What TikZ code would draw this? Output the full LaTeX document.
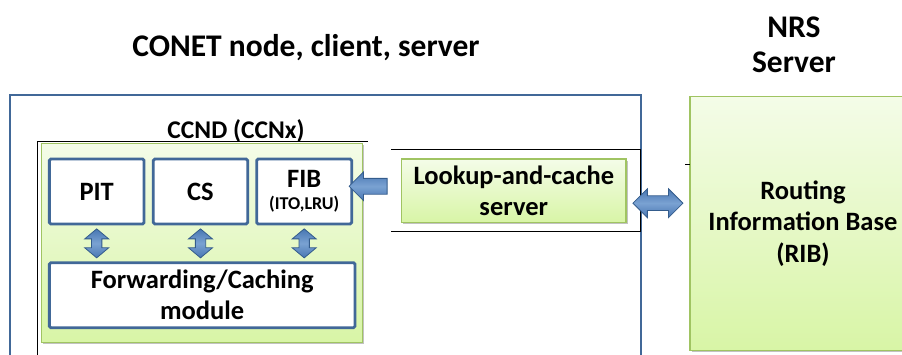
\documentclass[tikz,border=0pt]{standalone}
\usepackage{fontspec}
\setmainfont{Carlito}
\usetikzlibrary{shapes.arrows,shadows,calc}

\definecolor{boxblue}{RGB}{65,104,152}
\definecolor{arrowblue}{RGB}{72,118,178}
\definecolor{arrowlight}{RGB}{122,162,210}
\definecolor{arrowedge}{RGB}{52,92,140}
\definecolor{greenedge}{RGB}{160,196,98}
\definecolor{greentop}{RGB}{244,252,232}
\definecolor{greenbot}{RGB}{216,245,166}

\tikzset{
  unitbox/.style={draw=boxblue, line width=2.8pt, fill=white, rounded corners=1.5pt,
    inner sep=0pt, align=center, font=\bfseries\fontsize{26.5}{31}\selectfont},
  greenbox/.style={draw=greenedge, line width=1.3pt, top color=greentop, bottom color=greenbot,
    inner sep=0pt, align=center, font=\bfseries\fontsize{26.5}{31.5}\selectfont,
    drop shadow={shadow xshift=1.6pt, shadow yshift=-1.6pt, fill=black!40, opacity=.6}},
  fatarrow/.style={draw=arrowedge, top color=arrowblue, bottom color=arrowblue,
    middle color=arrowlight, line width=0.8pt, inner xsep=0pt,
    inner ysep=0pt, text depth=0pt, minimum width=0pt},
  vdarrow/.style={fatarrow, double arrow, rotate=90, text height=9.5pt, minimum height=29pt,
    double arrow head extend=6.8pt, double arrow tip angle=100},
  frameline/.style={black, line width=0.8pt},
  heading/.style={align=center, font=\bfseries\fontsize{31.5}{35}\selectfont}
}

\begin{document}
\begin{tikzpicture}[x=1pt,y=-1pt]
\useasboundingbox (0,0) rectangle (902,354);

\node[heading] (title) at (306,48) {CONET node, client, server};
\node[heading] (nrs) at (794,45) {NRS\\Server};

\draw[boxblue, line width=2.8pt] (10,380) -- (10,95) -- (641,95) -- (641,380);

\draw[frameline] (37,380) -- (37,141) -- (368,141);
\node[font=\bfseries\fontsize{25.5}{28}\selectfont] (ccndlabel) at (236,131) {CCND (CCNx)};
\node[greenbox, minimum width=321.4pt, minimum height=199.4pt] (ccnd) at (202,243) {};

\node[unitbox, minimum width=94.7pt, minimum height=65pt] (pit) at (96.7,191.5) {PIT};
\node[unitbox, minimum width=94.4pt, minimum height=65pt] (cs) at (200.5,191.5) {CS};
\node[unitbox, minimum width=95pt, minimum height=65pt] (fib) at (304.2,191.5)
  {\raisebox{-3pt}{FIB}\\[-6pt]{\fontsize{18}{20}\selectfont(ITO,LRU)}};
\node[unitbox, minimum width=305.7pt, minimum height=65pt] (fwd) at (202.2,295.2)
  {Forwarding/Caching\\module};

\foreach \n in {pit,cs,fib}
  \node[vdarrow] at ($(\n.south)!0.5!(\n.south |- fwd.north)$) {};

\draw[frameline] (391,149.3) -- (640,149.3) -- (640,231) -- (391,231);
\coordinate (lookupleft) at (391,190);
\node[greenbox, minimum width=224.3pt, minimum height=63.7pt] (lookup) at (513.8,190.8)
  {Lookup-and-cache\\server};

\node[greenbox, anchor=north west, minimum width=226pt, minimum height=254.3pt] (rib)
  at (689.3,95.7) {Routing\\Information Base\\(RIB)};
\draw[frameline, line width=0.6pt] (685,164.5) -- (689.5,164.5);

\node[fatarrow, single arrow, shape border rotate=180, text height=15pt, minimum height=38pt,
  single arrow head extend=6.5pt] (lookuparrow)
  at ($(fib.east)!0.5!(lookupleft)+(0,-4.5)$) {};
\node[fatarrow, double arrow, text height=14pt, minimum height=50pt,
  double arrow head extend=7pt] (ribarrow)
  at ($(lookup.east)!0.5!(rib.west)+(0,-4)$) {};
\end{tikzpicture}
\end{document}
